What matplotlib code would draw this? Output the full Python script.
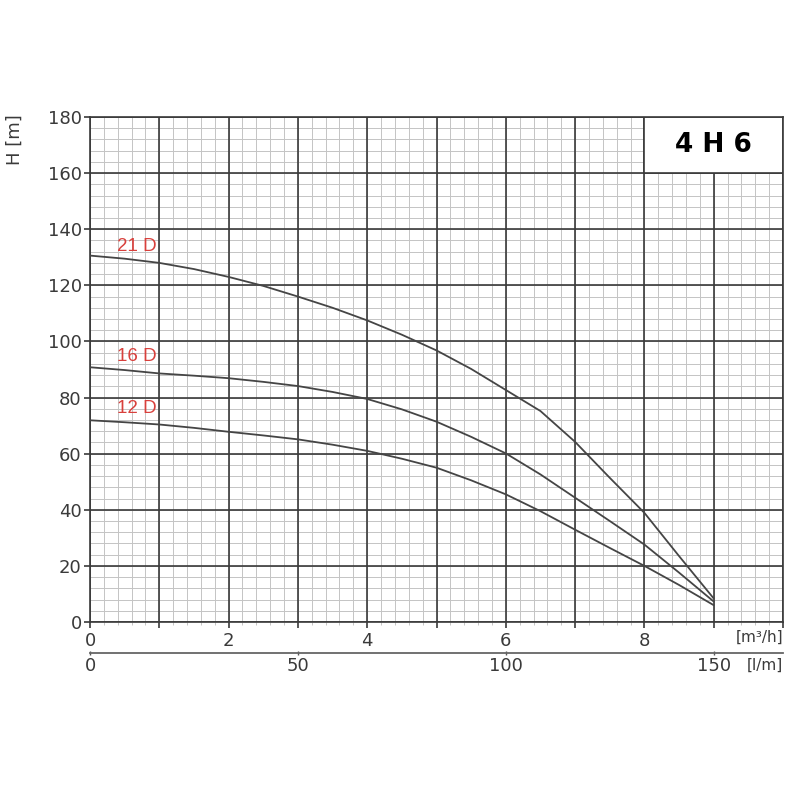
import matplotlib
matplotlib.use("Agg")
import matplotlib.pyplot as plt
import numpy as np
from matplotlib.patches import Rectangle
from matplotlib.ticker import MultipleLocator, FixedLocator, FixedFormatter

# ---- data ----
q_21 = [0, 0.5, 1, 1.5, 2, 2.5, 3, 3.5, 4, 4.5, 5, 5.5, 6, 6.5, 7, 7.5, 8, 8.5, 9]
h_21 = [130.6, 129.5, 128, 125.8, 123, 119.8, 116, 112, 107.5, 102.4, 96.8,
        90.2, 82.7, 75.2, 64.2, 51.4, 38.9, 23.5, 8.4]

q_16 = [0, 0.5, 1, 1.5, 2, 2.5, 3, 3.5, 4, 4.5, 5, 5.5, 6, 6.5, 7, 7.5, 8, 8.5, 9]
h_16 = [90.8, 89.8, 88.6, 87.8, 86.9, 85.6, 84.1, 82, 79.5, 75.8, 71.4,
        66, 60.1, 52.6, 44.3, 36, 27.6, 17.6, 7.3]

q_12 = [0, 0.5, 1, 1.5, 2, 2.5, 3, 3.5, 4, 4.5, 5, 5.5, 6, 6.5, 7, 7.5, 8, 8.5, 9]
h_12 = [71.9, 71.2, 70.4, 69.2, 67.8, 66.5, 65.1, 63.2, 61, 58.2, 55,
        50.5, 45.5, 39.5, 32.9, 26.4, 20, 13.2, 6]

curve_labels = ["21 D", "16 D", "12 D"]
label_h = [133.7, 94.7, 76]
label_q = 0.67

x_major_labels = ["0", "", "2", "", "4", "", "6", "", "8", "", ""]
lpm_ticks = [0, 50, 100, 150]
y_ticks = [0, 20, 40, 60, 80, 100, 120, 140, 160, 180]
title = "4 H 6"

major_c = "#3a3a3a"
minor_c = "#c4c4c4"
text_c = "#3a3a3a"
curve_c = "#454545"
red = "#d8403c"

fig = plt.figure(figsize=(8, 8), dpi=100)
ax = fig.add_axes([90/800, 1-622/800, 693/800, 505/800])
ax.set_xlim(0, 10)
ax.set_ylim(0, 180)

ax.xaxis.set_major_locator(FixedLocator(list(range(11))))
ax.xaxis.set_major_formatter(FixedFormatter(x_major_labels))
ax.xaxis.set_minor_locator(MultipleLocator(0.2))
ax.yaxis.set_major_locator(FixedLocator(y_ticks))

# grid drawn manually so major lines sit above all minor lines
xmin = np.arange(0, 10.001, 0.2)
ymin = np.arange(0, 180.001, 4)
ax.vlines(xmin, 0, 180, color=minor_c, lw=0.7, zorder=0.5)
ax.hlines(ymin, 0, 10, color=minor_c, lw=0.7, zorder=0.5)
ax.vlines(range(11), 0, 180, color=major_c, lw=1.2, zorder=0.6)
ax.hlines(y_ticks, 0, 10, color=major_c, lw=1.2, zorder=0.6)

ax.tick_params(axis="x", which="major", length=4.5, width=1.2, color=major_c,
               labelsize=13, labelcolor=text_c, pad=2.5)
ax.tick_params(axis="x", which="minor", length=2.5, width=0.7, color=minor_c)
ax.tick_params(axis="y", which="major", length=4, width=1.2, color=major_c,
               labelsize=13, labelcolor=text_c, pad=2)
ax.tick_params(axis="y", which="minor", length=0)
for s in ax.spines.values():
    s.set_color(major_c)
    s.set_linewidth(1.2)

# curves
for q, h in [(q_21, h_21), (q_16, h_16), (q_12, h_12)]:
    ax.plot(q, h, color=curve_c, lw=1.3, zorder=3, solid_capstyle="round",
            solid_joinstyle="round")
for lab, hh in zip(curve_labels, label_h):
    ax.text(label_q, hh, lab, color=red, fontsize=13.5, ha="center", va="center",
            family="Liberation Sans", zorder=4)

# title box
ax.add_patch(Rectangle((8, 160), 2, 20, facecolor="white", edgecolor=major_c,
                       lw=1.2, zorder=1.5))
ax.text(9, 170, title, fontsize=19, fontweight="bold", ha="center", va="center",
        color="black", zorder=4)

# y label
fig.text(0.018, 1-140/800, "H [m]", rotation=90, fontsize=13, color=text_c,
         ha="center", va="center")

# secondary axis l/min
sec = ax.secondary_xaxis((622-653)/505, functions=(lambda x: x*1000/60,
                                                    lambda y: y*60/1000))
sec.set_xticks(lpm_ticks)
sec.tick_params(length=3, width=1, color="#555555", labelsize=13,
                labelcolor=text_c, direction="inout", pad=1.5)
sec.spines["bottom"].set_color("#666666")
sec.spines["bottom"].set_linewidth(1.3)

fig.text(760/800, 1-637/800, "[m³/h]", fontsize=11, color=text_c,
         ha="center", va="center")
fig.text(765/800, 1-665/800, "[l/m]", fontsize=11, color=text_c,
         ha="center", va="center")

fig.savefig("out.png", dpi=100, facecolor="white")
